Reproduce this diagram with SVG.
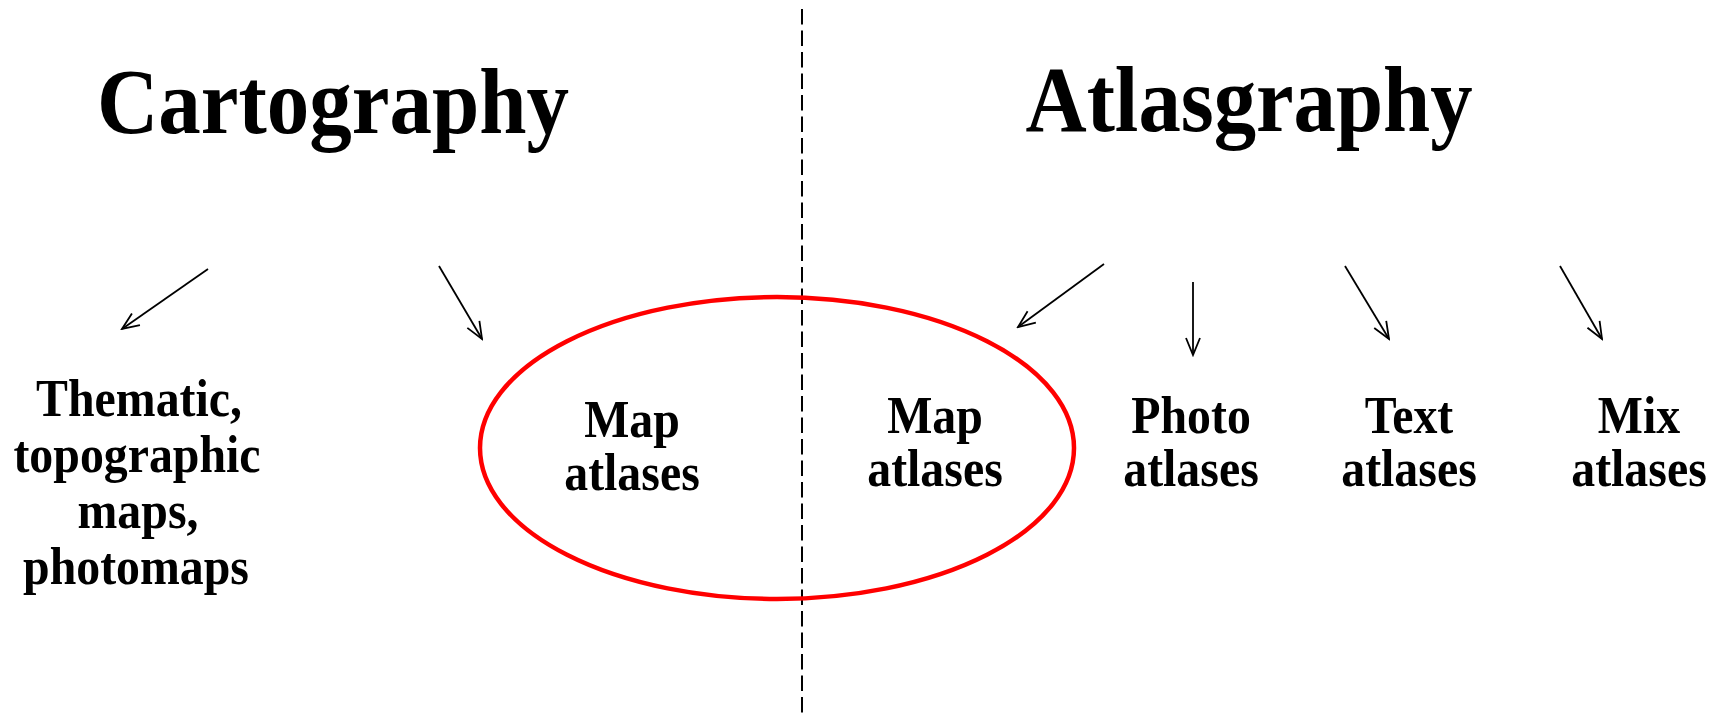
<svg xmlns="http://www.w3.org/2000/svg" width="1725" height="718" viewBox="0 0 1725 718">
<defs>
<style>
.t{font-family:"Liberation Serif","Times New Roman",serif;font-weight:bold;fill:#000;text-anchor:middle}
.title{font-size:94px}
.lbl{font-size:52px}
.arr{stroke:#000;stroke-width:1.8;fill:none}
</style>
<marker id="ah" viewBox="0 0 20 20" refX="18" refY="10" markerWidth="20" markerHeight="20" markerUnits="userSpaceOnUse" orient="auto">
<path d="M1,3 L18,10 L1,17" fill="none" stroke="#000" stroke-width="1.8"/>
</marker>
</defs>
<rect width="1725" height="718" fill="#fff"/>
<g id="divider">
<line x1="802" y1="9" x2="802" y2="718" stroke="#000" stroke-width="2" stroke-dasharray="15.5,6"/>
</g>
<g id="title-cartography"><text class="t title" x="333" y="133" textLength="472" lengthAdjust="spacingAndGlyphs">Cartography</text></g>
<g id="title-atlasgraphy"><text class="t title" x="1249" y="131" textLength="447" lengthAdjust="spacingAndGlyphs">Atlasgraphy</text></g>
<g id="ellipse"><ellipse cx="777" cy="448" rx="297" ry="151" fill="none" stroke="#ff0000" stroke-width="4.5"/></g>
<g id="node-thematic">
<text class="t lbl" transform="translate(139,416) scale(0.92,1)">Thematic,</text>
<text class="t lbl" transform="translate(137,472) scale(0.92,1)">topographic</text>
<text class="t lbl" transform="translate(138,528) scale(0.92,1)">maps,</text>
<text class="t lbl" transform="translate(136,584) scale(0.92,1)">photomaps</text>
</g>
<g id="node-map-left">
<text class="t lbl" transform="translate(632,437) scale(0.92,1)">Map</text>
<text class="t lbl" transform="translate(632,490) scale(0.92,1)">atlases</text>
</g>
<g id="node-map-right">
<text class="t lbl" transform="translate(935,433) scale(0.92,1)">Map</text>
<text class="t lbl" transform="translate(935,486) scale(0.92,1)">atlases</text>
</g>
<g id="node-photo">
<text class="t lbl" transform="translate(1191,433) scale(0.92,1)">Photo</text>
<text class="t lbl" transform="translate(1191,486) scale(0.92,1)">atlases</text>
</g>
<g id="node-text">
<text class="t lbl" transform="translate(1409,433) scale(0.92,1)">Text</text>
<text class="t lbl" transform="translate(1409,486) scale(0.92,1)">atlases</text>
</g>
<g id="node-mix">
<text class="t lbl" transform="translate(1639,433) scale(0.92,1)">Mix</text>
<text class="t lbl" transform="translate(1639,486) scale(0.92,1)">atlases</text>
</g>
<g id="connectors">
<line class="arr" x1="208" y1="269" x2="122" y2="329" marker-end="url(#ah)"/>
<line class="arr" x1="439" y1="266" x2="482" y2="339" marker-end="url(#ah)"/>
<line class="arr" x1="1104" y1="264" x2="1018" y2="327" marker-end="url(#ah)"/>
<line class="arr" x1="1193" y1="282" x2="1193" y2="355" marker-end="url(#ah)"/>
<line class="arr" x1="1345" y1="266" x2="1389" y2="339" marker-end="url(#ah)"/>
<line class="arr" x1="1560" y1="266" x2="1602" y2="339" marker-end="url(#ah)"/>
</g>
</svg>
